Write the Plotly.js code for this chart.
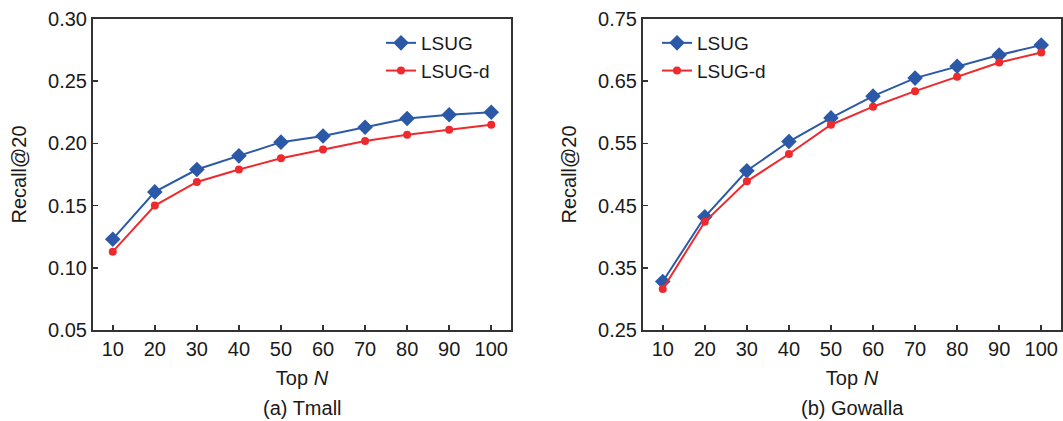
<!DOCTYPE html>
<html>
<head>
<meta charset="utf-8">
<script src="https://cdn.plot.ly/plotly-3.0.1.min.js"></script>
<style>html,body{margin:0;padding:0;background:#fff;}#chart{width:1063px;height:421px;}</style>
</head>
<body>
<div id="chart"></div>
<script>
const topN = [10, 20, 30, 40, 50, 60, 70, 80, 90, 100];
const tmallLSUG  = [0.123, 0.161, 0.179, 0.190, 0.201, 0.206, 0.213, 0.220, 0.223, 0.225];
const tmallLSUGd = [0.113, 0.150, 0.169, 0.179, 0.188, 0.195, 0.202, 0.207, 0.211, 0.215];
const gowLSUG    = [0.328, 0.432, 0.506, 0.553, 0.591, 0.626, 0.655, 0.674, 0.692, 0.708];
const gowLSUGd   = [0.316, 0.424, 0.489, 0.533, 0.580, 0.609, 0.634, 0.657, 0.680, 0.696];
const tmallTicks = [0.05, 0.10, 0.15, 0.20, 0.25, 0.30];
const gowTicks   = [0.25, 0.35, 0.45, 0.55, 0.65, 0.75];
const seriesNames = ['LSUG', 'LSUG-d'];
const captions = ['(a) Tmall', '(b) Gowalla'];

const W = 1063, H = 421;
const BLUE = '#2b59a8', RED = '#ee2a2e';
const FONT = 'Liberation Sans, Arial, sans-serif';
const FS = 20;

function mk(x, y, name, color, sym, size, xa, ya, leg) {
  return {x: x, y: y, name: name, type: 'scatter', mode: 'lines+markers',
    xaxis: xa, yaxis: ya, legend: leg,
    line: {color: color, width: 2},
    marker: {color: color, symbol: sym, size: size}};
}
const data = [
  mk(topN, tmallLSUG, seriesNames[0], BLUE, 'diamond', 12, 'x', 'y', 'legend'),
  mk(topN, tmallLSUGd, seriesNames[1], RED, 'circle', 8, 'x', 'y', 'legend'),
  mk(topN, gowLSUG, seriesNames[0], BLUE, 'diamond', 12, 'x2', 'y2', 'legend2'),
  mk(topN, gowLSUGd, seriesNames[1], RED, 'circle', 8, 'x2', 'y2', 'legend2')
];

const tickf = {family: FONT, size: FS, color: '#1a1a1a'};
function xax(domain, anchor) {
  return {domain: domain, anchor: anchor, range: [5.3, 104.7], tickvals: topN,
    ticks: 'inside', ticklen: 5, tickwidth: 1.5, tickcolor: '#333',
    showline: true, linecolor: '#333', linewidth: 2, mirror: true,
    showgrid: false, zeroline: false, tickfont: tickf,
    title: {text: 'Top <i>N</i>', font: {family: FONT, size: FS, color: '#1a1a1a'}, standoff: 12}};
}
function yax(domain, anchor, range, tv) {
  return {domain: domain, anchor: anchor, range: range, tickvals: tv,
    tickformat: '.2f',
    ticks: 'inside', ticklen: 5, tickwidth: 1.5, tickcolor: '#333',
    showline: true, linecolor: '#333', linewidth: 2, mirror: true,
    showgrid: false, zeroline: false, tickfont: tickf,
    title: {text: 'Recall@20', font: {family: FONT, size: FS, color: '#1a1a1a'}, standoff: 16}};
}
const yd = [1 - 330/H, 1 - 19/H];
const legf = {family: FONT, size: 19, color: '#1a1a1a'};
const layout = {
  width: W, height: H,
  margin: {l: 0, r: 0, t: 0, b: 0},
  paper_bgcolor: '#fff', plot_bgcolor: '#fff',
  font: {family: FONT, color: '#1a1a1a'},
  xaxis: xax([93/W, 511/W], 'y'),
  yaxis: yax(yd, 'x', [0.05, 0.30], tmallTicks),
  xaxis2: xax([643/W, 1061/W], 'y2'),
  yaxis2: yax(yd, 'x2', [0.25, 0.75], gowTicks),
  legend: {x: 381/W, y: 1 - 24/H, xanchor: 'left', yanchor: 'top',
    bgcolor: 'rgba(0,0,0,0)', font: legf, itemwidth: 30},
  legend2: {x: 657/W, y: 1 - 24/H, xanchor: 'left', yanchor: 'top',
    bgcolor: 'rgba(0,0,0,0)', font: legf, itemwidth: 30},
  annotations: [
    {text: captions[0], xref: 'paper', yref: 'paper', x: 302/W, y: 1 - 408/H,
     showarrow: false, xanchor: 'center', yanchor: 'middle', font: {family: FONT, size: FS, color: '#1a1a1a'}},
    {text: captions[1], xref: 'paper', yref: 'paper', x: 852/W, y: 1 - 408/H,
     showarrow: false, xanchor: 'center', yanchor: 'middle', font: {family: FONT, size: FS, color: '#1a1a1a'}}
  ],
  showlegend: true
};
Plotly.newPlot('chart', data, layout, {displayModeBar: false, staticPlot: true});
</script>
</body>
</html>
